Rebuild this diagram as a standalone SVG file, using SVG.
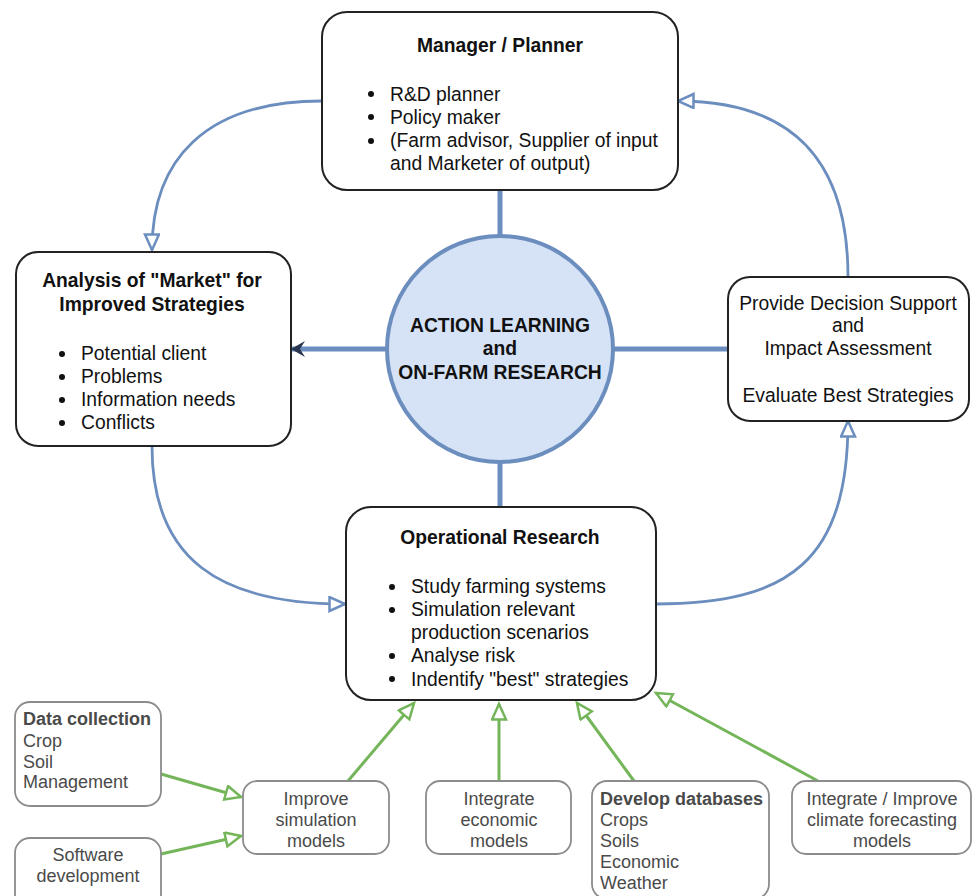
<svg xmlns="http://www.w3.org/2000/svg" width="973" height="896" viewBox="0 0 973 896">
<style>
.main{fill:#fff;stroke:#222;stroke-width:2}
.small{fill:#fff;stroke:#8c8c8c;stroke-width:1.8}
.t{font-family:"Liberation Sans",Arial,sans-serif;font-size:19.3px;fill:#111}
.b{font-weight:bold}
.s{font-family:"Liberation Sans",Arial,sans-serif;font-size:18px;fill:#4a4a4a}
.c{text-anchor:middle}
.blue{fill:none;stroke:#6c8ebf;stroke-width:2.8}
.thick{fill:none;stroke:#6c8ebf;stroke-width:5}
.green{fill:none;stroke:#74b55a;stroke-width:3}
.dot{fill:#111}
</style>
<defs>
<marker id="ab" markerUnits="userSpaceOnUse" markerWidth="20" markerHeight="18" refX="17" refY="8" orient="auto" viewBox="0 0 20 18">
<path d="M1.5,1 L17,8 L1.5,15 Z" fill="#fff" stroke="#6c8ebf" stroke-width="2.5"/>
</marker>
<marker id="ag" markerUnits="userSpaceOnUse" markerWidth="20" markerHeight="18" refX="17" refY="8" orient="auto" viewBox="0 0 20 18">
<path d="M1.5,1 L17,8 L1.5,15 Z" fill="#fff" stroke="#74b55a" stroke-width="2.5"/>
</marker>
</defs>

<g id="connectors">
<path class="blue" d="M322,101 C205,101 152,160 152,250" marker-end="url(#ab)"/>
<path class="blue" d="M848,277 C848,160 792,101 678,101" marker-end="url(#ab)"/>
<path class="blue" d="M152,446 C152,560 220,604 345,604" marker-end="url(#ab)"/>
<path class="blue" d="M656,604 C790,604 848,560 848,421" marker-end="url(#ab)"/>
<path class="thick" d="M500,190 L500,237"/>
<path class="thick" d="M500,461 L500,507"/>
<path class="thick" d="M613,349 L728,349"/>
<path class="thick" d="M387,349 L291,349"/>
<path d="M305,341 L291,349 L305,357 L300,349 Z" fill="#2a3550"/>
<path class="green" d="M161,774 L241,797" marker-end="url(#ag)"/>
<path class="green" d="M161,854 L241,836" marker-end="url(#ag)"/>
<path class="green" d="M348,781 L414,703" marker-end="url(#ag)"/>
<path class="green" d="M499,781 L499,704" marker-end="url(#ag)"/>
<path class="green" d="M634,781 L577,703" marker-end="url(#ag)"/>
<path class="green" d="M818,781 L656,693" marker-end="url(#ag)"/>
</g>

<g id="center">
<circle cx="500" cy="349" r="113" fill="#d6e3f6" stroke="#6c8ebf" stroke-width="4"/>
<text class="t b c" x="500" y="332">ACTION LEARNING</text>
<text class="t b c" x="500" y="355">and</text>
<text class="t b c" x="500" y="379">ON-FARM RESEARCH</text>
</g>

<g id="manager">
<rect class="main" x="322" y="12" width="356" height="178" rx="25"/>
<text class="t b c" x="500" y="52">Manager / Planner</text>
<circle class="dot" cx="371" cy="94" r="3"/>
<circle class="dot" cx="371" cy="117" r="3"/>
<circle class="dot" cx="371" cy="141" r="3"/>
<text class="t" x="390" y="101">R&amp;D planner</text>
<text class="t" x="390" y="124">Policy maker</text>
<text class="t" x="390" y="147">(Farm advisor, Supplier of input</text>
<text class="t" x="390" y="170">and Marketer of output)</text>
</g>

<g id="analysis">
<rect class="main" x="16" y="252" width="275" height="194" rx="22"/>
<text class="t b c" x="152" y="287">Analysis of "Market" for</text>
<text class="t b c" x="152" y="311">Improved Strategies</text>
<circle class="dot" cx="62" cy="354" r="3"/>
<circle class="dot" cx="62" cy="377" r="3"/>
<circle class="dot" cx="62" cy="400" r="3"/>
<circle class="dot" cx="62" cy="423" r="3"/>
<text class="t" x="81" y="360">Potential client</text>
<text class="t" x="81" y="383">Problems</text>
<text class="t" x="81" y="406">Information needs</text>
<text class="t" x="81" y="429">Conflicts</text>
</g>

<g id="decision">
<rect class="main" x="728" y="277" width="241" height="144" rx="22"/>
<text class="t c" x="848" y="310">Provide Decision Support</text>
<text class="t c" x="848" y="332">and</text>
<text class="t c" x="848" y="355">Impact Assessment</text>
<text class="t c" x="848" y="402">Evaluate Best Strategies</text>
</g>

<g id="operational">
<rect class="main" x="346" y="507" width="310" height="193" rx="25"/>
<text class="t b c" x="500" y="544">Operational Research</text>
<circle class="dot" cx="392" cy="587" r="3"/>
<circle class="dot" cx="392" cy="610" r="3"/>
<circle class="dot" cx="392" cy="656" r="3"/>
<circle class="dot" cx="392" cy="679" r="3"/>
<text class="t" x="411" y="593">Study farming systems</text>
<text class="t" x="411" y="616">Simulation relevant</text>
<text class="t" x="411" y="639">production scenarios</text>
<text class="t" x="411" y="662">Analyse risk</text>
<text class="t" x="411" y="686">Indentify "best" strategies</text>
</g>

<g id="datacollection">
<rect class="small" x="15" y="702" width="146" height="104" rx="15"/>
<text class="s b" x="23" y="725" fill="#333">Data collection</text>
<text class="s" x="23" y="747">Crop</text>
<text class="s" x="23" y="768">Soil</text>
<text class="s" x="23" y="788">Management</text>
</g>

<g id="software">
<rect class="small" x="15" y="838" width="146" height="72" rx="15"/>
<text class="s c" x="88" y="861">Software</text>
<text class="s c" x="88" y="882">development</text>
</g>

<g id="improvesim">
<rect class="small" x="243" y="781" width="146" height="73" rx="14"/>
<text class="s c" x="316" y="805">Improve</text>
<text class="s c" x="316" y="826">simulation</text>
<text class="s c" x="316" y="847">models</text>
</g>

<g id="integrateecon">
<rect class="small" x="426" y="781" width="145" height="73" rx="14"/>
<text class="s c" x="499" y="805">Integrate</text>
<text class="s c" x="499" y="826">economic</text>
<text class="s c" x="499" y="847">models</text>
</g>

<g id="databases">
<rect class="small" x="592" y="781" width="177" height="118" rx="15"/>
<text class="s b" x="600" y="805" fill="#333">Develop databases</text>
<text class="s" x="600" y="826">Crops</text>
<text class="s" x="600" y="847">Soils</text>
<text class="s" x="600" y="868">Economic</text>
<text class="s" x="600" y="889">Weather</text>
</g>

<g id="climate">
<rect class="small" x="792" y="781" width="179" height="73" rx="14"/>
<text class="s c" x="882" y="805">Integrate / Improve</text>
<text class="s c" x="882" y="826">climate forecasting</text>
<text class="s c" x="882" y="847">models</text>
</g>
</svg>
